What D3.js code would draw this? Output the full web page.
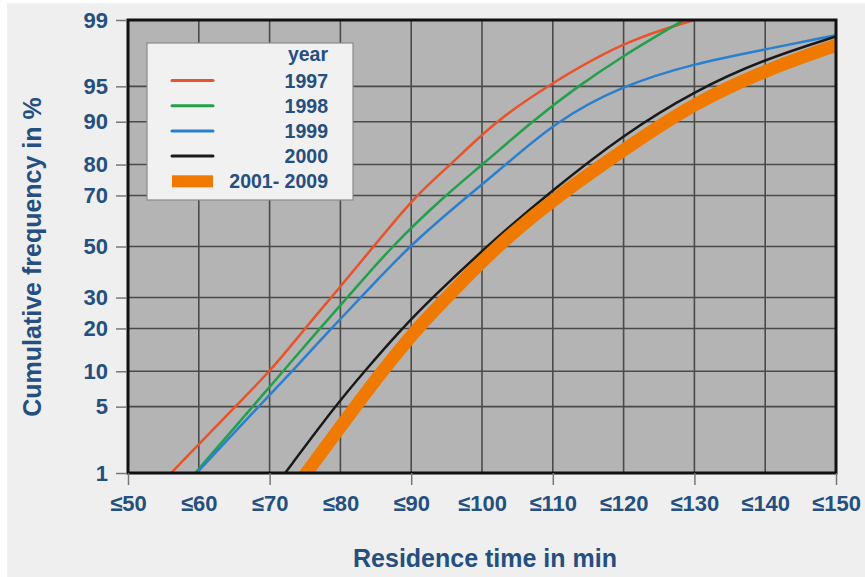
<!DOCTYPE html>
<html>
<head>
<meta charset="utf-8">
<script src="https://cdn.jsdelivr.net/npm/d3@7.9.0/dist/d3.min.js"></script>
<style>
  body { margin: 0; background: #fff; }
  svg { display: block; }
  text { font-family: "Liberation Sans", Arial, sans-serif; font-weight: bold; fill: #244f80; }
</style>
</head>
<body>
<svg width="865" height="577"></svg>
<script>
// residence time (min) at which each cumulative % is reached
const years = ['1997', '1998', '1999', '2000', '2001- 2009'];
const colors = ['#e8532b', '#22a04b', '#2a80cf', '#1a1a1a', '#f07a00'];
const widths = [2.5, 2.5, 2.5, 2.5, 13];

const s1997 = [[56.1, 1], [65.1, 5], [70.1, 10], [75, 20], [78.7, 30], [84.7, 50], [90.6, 70], [95.6, 80], [101.8, 90], [109.1, 95], [120, 98.25], [130, 99]];
const s1998 = [[59.5, 1], [67.6, 5], [71.9, 10], [77.1, 20], [81, 30], [87.2, 50], [94.8, 70], [100.1, 80], [107, 90], [113.5, 95], [120, 97.5], [125.8, 98.65], [128.5, 99]];
const s1999 = [[59.7, 1], [68.4, 5], [73.2, 10], [78.7, 20], [82.9, 30], [89.6, 50], [98.1, 70], [103.4, 80], [110.4, 90], [119.5, 95], [130, 97], [140, 97.85], [150, 98.5]];
const s2000 = [[72.2, 1], [79.2, 5], [83.4, 10], [88.7, 20], [93, 30], [100.6, 50], [110, 72], [120, 87.5], [130, 94.5], [140, 97.3], [150, 98.45]];
const s2001 = [[75.2, 1], [82.1, 5], [85.9, 10], [90.8, 20], [95, 30], [102, 50], [110, 68.5], [120, 84], [130, 93], [140, 96.5], [150, 98.06]];
const allSeries = [s1997, s1998, s1999, s2000, s2001];

const xTicks = [50, 60, 70, 80, 90, 100, 110, 120, 130, 140, 150];
const xMarks = [50, 70, 90, 110, 130, 150];
const yTicks = [1, 5, 10, 20, 30, 50, 70, 80, 90, 95, 99];

// inverse normal cdf (Acklam) for the probability scale
function probit(p) {
  const a = [-3.969683028665376e+01, 2.209460984245205e+02, -2.759285104469687e+02, 1.383577518672690e+02, -3.066479806614716e+01, 2.506628277459239e+00];
  const b = [-5.447609879822406e+01, 1.615858368580409e+02, -1.556989798598866e+02, 6.680131188771972e+01, -1.328068155288572e+01];
  const c = [-7.784894002430293e-03, -3.223964580411365e-01, -2.400758277161838e+00, -2.549732539343734e+00, 4.374664141464968e+00, 2.938163982698783e+00];
  const d = [7.784695709041462e-03, 3.224671290700398e-01, 2.445134137142996e+00, 3.754408661907416e+00];
  const pl = 0.02425;
  let q, r;
  if (p < pl) {
    q = Math.sqrt(-2 * Math.log(p));
    return (((((c[0] * q + c[1]) * q + c[2]) * q + c[3]) * q + c[4]) * q + c[5]) / ((((d[0] * q + d[1]) * q + d[2]) * q + d[3]) * q + 1);
  }
  if (p <= 1 - pl) {
    q = p - 0.5; r = q * q;
    return (((((a[0] * r + a[1]) * r + a[2]) * r + a[3]) * r + a[4]) * r + a[5]) * q / (((((b[0] * r + b[1]) * r + b[2]) * r + b[3]) * r + b[4]) * r + 1);
  }
  q = Math.sqrt(-2 * Math.log(1 - p));
  return -(((((c[0] * q + c[1]) * q + c[2]) * q + c[3]) * q + c[4]) * q + c[5]) / ((((d[0] * q + d[1]) * q + d[2]) * q + d[3]) * q + 1);
}

const L = 128, R = 836, T = 20, B = 473;
const svg = d3.select('svg');

svg.append('rect').attr('x', 7).attr('y', 3).attr('width', 858).attr('height', 574).attr('fill', '#efefef');

const x = d3.scaleLinear().domain([50, 150]).range([L, R]);
const z = d3.scaleLinear().domain([probit(0.01), probit(0.99)]).range([B, T]);
const yp = p => z(probit(p / 100));

svg.append('rect').attr('x', L).attr('y', T).attr('width', R - L).attr('height', B - T).attr('fill', '#b4b4b4');

// grid
const grid = svg.append('g').attr('stroke', '#4a4a4a').attr('stroke-width', 1.6);
grid.selectAll('.vx').data(xTicks).join('line')
  .attr('x1', d => x(d)).attr('x2', d => x(d)).attr('y1', T).attr('y2', B);
grid.selectAll('.hy').data(yTicks).join('line')
  .attr('x1', L).attr('x2', R).attr('y1', d => yp(d)).attr('y2', d => yp(d));

// curves
svg.append('clipPath').attr('id', 'clip').append('rect')
  .attr('x', L).attr('y', T).attr('width', R - L).attr('height', B - T);
const line = d3.line().x(d => x(d[0])).y(d => yp(d[1])).curve(d3.curveBasis);
const curves = svg.append('g').attr('clip-path', 'url(#clip)');
allSeries.forEach((s, i) => {
  curves.append('path').attr('d', line(s)).attr('fill', 'none')
    .attr('stroke', colors[i]).attr('stroke-width', widths[i])
    .attr('stroke-linecap', i === 4 ? 'square' : 'butt').attr('stroke-linejoin', 'round');
});

// frame
svg.append('rect').attr('x', L).attr('y', T).attr('width', R - L).attr('height', B - T)
  .attr('fill', 'none').attr('stroke', '#111').attr('stroke-width', 3);

// y axis
const yAxis = d3.axisLeft(z).tickValues(yTicks.map(p => probit(p / 100)))
  .tickFormat((d, i) => yTicks[i]).tickSize(11).tickPadding(8);
const gy = svg.append('g').attr('transform', `translate(${L - 1},0)`).call(yAxis);
gy.select('.domain').remove();
gy.selectAll('.tick line').attr('stroke', '#777').attr('stroke-width', 1.5);
gy.selectAll('.tick text').style('font-size', '22px').attr('fill', '#244f80');

// x axis: marks every 20, labels every 10
const gxm = svg.append('g').attr('transform', `translate(0,${B})`)
  .call(d3.axisBottom(x).tickValues(xMarks).tickFormat('').tickSize(12));
gxm.select('.domain').remove();
gxm.selectAll('.tick line').attr('stroke', '#777').attr('stroke-width', 1.5);
const gx = svg.append('g').attr('transform', `translate(0,${B})`)
  .call(d3.axisBottom(x).tickValues(xTicks).tickFormat(d => '≤' + d).tickSize(0).tickPadding(22));
gx.select('.domain').remove();
gx.selectAll('.tick text').style('font-size', '22px').attr('fill', '#244f80');

// titles
svg.append('text').attr('x', 485).attr('y', 567).attr('text-anchor', 'middle')
  .style('font-size', '25px').text('Residence time in min');
svg.append('text').attr('transform', 'translate(41,257) rotate(-90)').attr('text-anchor', 'middle')
  .style('font-size', '25px').text('Cumulative frequency in %');

// legend
const lg = svg.append('g');
lg.append('rect').attr('x', 147).attr('y', 43).attr('width', 206).attr('height', 157)
  .attr('fill', '#f1f1f1').attr('stroke', '#8a8a8a').attr('stroke-width', 1.2);
lg.append('text').attr('x', 328).attr('y', 61).attr('text-anchor', 'end')
  .style('font-size', '19.5px').text('year');
years.forEach((yr, i) => {
  const cy = 80.5 + i * 25.2;
  if (i === 4) {
    lg.append('rect').attr('x', 172).attr('y', cy - 6).attr('width', 41).attr('height', 12).attr('fill', colors[i]);
  } else {
    lg.append('line').attr('x1', 172).attr('x2', 213).attr('y1', cy).attr('y2', cy)
      .attr('stroke', colors[i]).attr('stroke-width', 3).attr('stroke-linecap', 'round');
  }
  lg.append('text').attr('x', 328).attr('y', cy + 7).attr('text-anchor', 'end')
    .style('font-size', '19.5px').text(yr);
});
</script>
</body>
</html>
